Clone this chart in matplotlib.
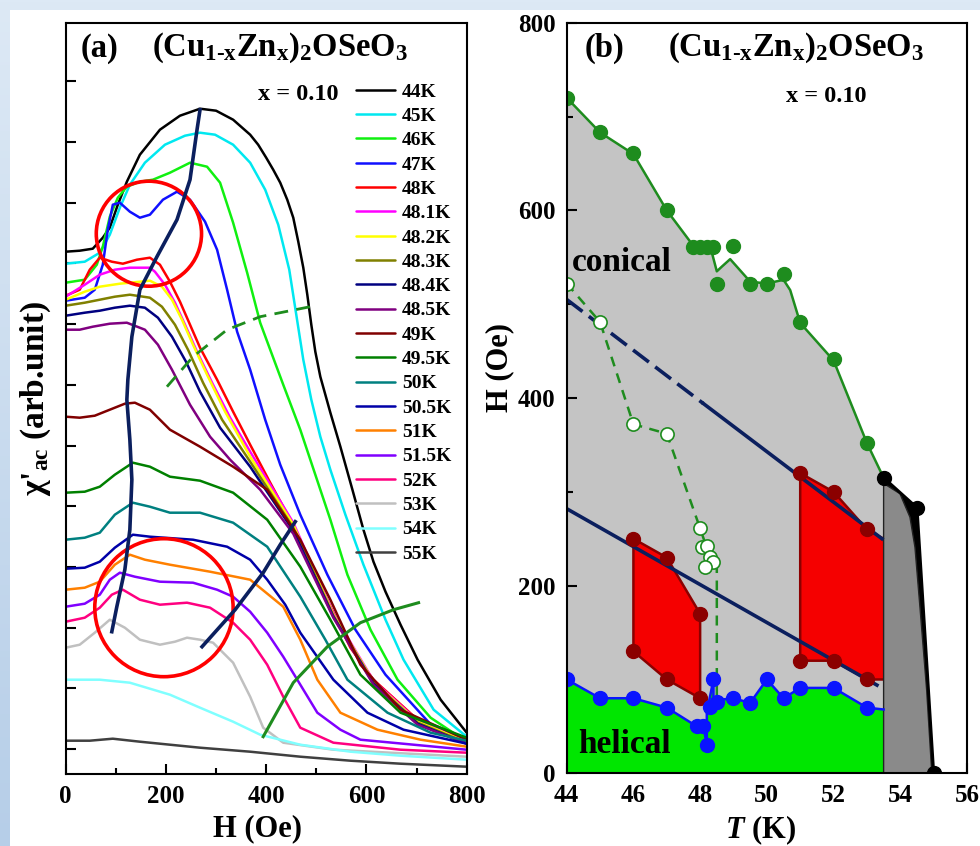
import numpy as np
import matplotlib
matplotlib.use("Agg")
import matplotlib.pyplot as plt
from matplotlib.patches import Ellipse, Rectangle
from matplotlib.colors import LinearSegmentedColormap
from matplotlib.ticker import MultipleLocator, FixedLocator

plt.rcParams['font.family'] = ['Liberation Serif', 'DejaVu Serif']
plt.rcParams['font.weight'] = 'bold'
plt.rcParams['axes.labelweight'] = 'bold'
plt.rcParams['mathtext.fontset'] = 'custom'
plt.rcParams['mathtext.rm'] = 'Liberation Serif:bold'
plt.rcParams['mathtext.it'] = 'Liberation Serif:bold'
plt.rcParams['mathtext.bf'] = 'Liberation Serif:bold'
plt.rcParams['mathtext.sf'] = 'Liberation Serif:italic:bold'

# ---------------- panel (a): chi'_ac vs H ----------------
temps = ['44K', '45K', '46K', '47K', '48K', '48.1K', '48.2K', '48.3K', '48.4K', '48.5K',
         '49K', '49.5K', '50K', '50.5K', '51K', '51.5K', '52K', '53K', '54K', '55K']
colors = ['#000000', '#00e8f0', '#10f010', '#1010ff', '#ff0000', '#ff00ff', '#ffff00', '#808000',
          '#000080', '#800080', '#800000', '#008000', '#008080', '#0000a8', '#ff8000', '#8000ff',
          '#ff0080', '#c0c0c0', '#80ffff', '#404040']

chi_H = [
    [0, 28, 54, 74, 88, 104, 122, 148, 188, 228, 268, 300, 334, 368, 384, 400, 414, 428, 442, 454, 464, 474, 482, 490, 498, 508, 528, 548, 572, 594, 614, 638, 668, 702, 748, 800],
    [0, 38, 68, 88, 108, 128, 158, 198, 238, 268, 298, 334, 368, 398, 424, 446, 460, 474, 490, 508, 528, 558, 594, 638, 674, 734, 800],
    [0, 38, 62, 74, 88, 104, 122, 148, 174, 208, 248, 282, 308, 334, 362, 388, 408, 434, 468, 498, 528, 562, 608, 662, 728, 800],
    [0, 38, 58, 74, 84, 94, 108, 128, 148, 168, 194, 222, 248, 278, 302, 322, 342, 368, 398, 428, 468, 522, 578, 638, 734, 800],
    [0, 28, 48, 68, 92, 114, 142, 168, 188, 208, 228, 248, 268, 302, 334, 368, 408, 448, 488, 534, 568, 614, 702, 800],
    [0, 38, 68, 98, 128, 168, 178, 198, 218, 238, 262, 292, 328, 368, 454, 534, 614, 702, 800],
    [0, 38, 68, 108, 168, 192, 212, 232, 254, 282, 318, 368, 454, 534, 614, 702, 800],
    [0, 38, 68, 98, 128, 168, 192, 218, 244, 274, 312, 368, 454, 534, 614, 702, 800],
    [0, 38, 68, 98, 128, 158, 184, 212, 240, 268, 308, 368, 454, 534, 614, 702, 800],
    [0, 28, 54, 88, 122, 158, 184, 212, 248, 288, 328, 388, 454, 534, 614, 702, 800],
    [0, 28, 58, 88, 118, 138, 168, 208, 268, 334, 402, 468, 528, 588, 668, 800],
    [0, 38, 68, 98, 134, 168, 208, 268, 334, 402, 468, 528, 588, 668, 800],
    [0, 38, 68, 98, 134, 168, 208, 268, 334, 402, 468, 518, 562, 642, 728, 800],
    [0, 38, 68, 98, 134, 168, 254, 322, 368, 402, 438, 468, 534, 602, 674, 800],
    [0, 38, 68, 98, 128, 158, 208, 288, 368, 434, 468, 502, 548, 622, 708, 800],
    [0, 38, 68, 88, 108, 138, 188, 254, 302, 334, 368, 402, 434, 462, 502, 548, 588, 800],
    [0, 38, 68, 92, 114, 148, 188, 242, 288, 334, 368, 402, 434, 468, 534, 668, 800],
    [0, 28, 58, 88, 118, 148, 188, 218, 242, 268, 294, 334, 368, 394, 434, 534, 800],
    [0, 68, 128, 208, 268, 334, 388, 468, 568, 668, 800],
    [0, 48, 94, 148, 208, 268, 368, 468, 568, 668, 800],
]
chi_v = [
    [52.2, 52.3, 52.5, 53.6, 54.6, 56.9, 59.2, 61.9, 64.4, 65.8, 66.5, 66.3, 65.4, 63.9, 62.9, 61.6, 60.4, 59.1, 57.4, 55.6, 53.2, 50.6, 47.9, 44.9, 42.2, 39.7, 36.1, 32.7, 28.4, 24.4, 21.2, 18.2, 14.9, 11.4, 7.4, 4.1],
    [51.0, 51.2, 52.1, 53.9, 56.6, 58.9, 61.1, 62.9, 63.8, 64.1, 63.9, 62.9, 61.1, 58.4, 54.9, 50.4, 45.9, 41.4, 37.4, 33.7, 30.4, 25.9, 20.9, 15.4, 11.4, 6.4, 3.7],
    [49.1, 49.4, 50.9, 52.7, 55.7, 57.6, 58.7, 59.2, 59.4, 60.1, 61.1, 60.7, 59.1, 55.1, 50.1, 45.1, 42.4, 38.9, 34.4, 29.9, 25.4, 19.9, 14.4, 9.4, 5.6, 3.2],
    [47.3, 47.6, 48.4, 50.9, 54.4, 56.9, 57.1, 56.2, 55.6, 55.9, 57.4, 58.2, 57.4, 55.2, 52.4, 48.4, 44.2, 40.4, 35.4, 30.9, 25.9, 19.9, 14.4, 9.9, 4.6, 3.1],
    [47.8, 48.4, 50.4, 51.6, 51.2, 51.0, 51.4, 51.6, 50.9, 49.2, 47.2, 44.9, 42.6, 39.4, 36.2, 32.9, 29.1, 25.4, 20.9, 16.1, 12.6, 9.4, 5.4, 3.4],
    [47.7, 48.9, 49.9, 50.4, 50.6, 50.6, 50.2, 48.9, 47.1, 44.9, 42.2, 39.1, 35.6, 32.2, 25.1, 16.0, 9.3, 5.3, 3.3],
    [47.4, 48.2, 48.7, 49.0, 49.3, 48.7, 47.4, 45.4, 42.9, 39.9, 36.2, 31.7, 24.9, 15.9, 9.2, 5.2, 3.2],
    [46.8, 47.1, 47.4, 47.7, 47.9, 47.6, 46.7, 44.9, 42.4, 39.1, 35.4, 31.2, 24.6, 15.8, 9.1, 5.1, 3.1],
    [45.8, 46.1, 46.3, 46.6, 46.8, 46.6, 45.6, 43.7, 41.2, 38.2, 34.6, 30.7, 24.3, 15.7, 9.0, 5.0, 3.0],
    [44.4, 44.4, 44.7, 45.0, 45.1, 44.4, 42.9, 40.4, 36.9, 33.7, 31.4, 28.4, 24.0, 15.6, 8.9, 4.9, 3.0],
    [35.7, 35.6, 35.8, 36.4, 37.0, 37.1, 36.4, 34.4, 32.7, 30.7, 28.4, 23.4, 17.4, 10.9, 6.4, 3.4],
    [28.1, 28.2, 28.7, 29.9, 31.1, 30.7, 29.7, 29.3, 28.1, 25.4, 20.7, 15.4, 9.9, 6.1, 3.6],
    [23.4, 23.6, 24.1, 25.9, 27.1, 26.7, 26.1, 26.1, 25.1, 22.7, 17.7, 13.4, 9.4, 6.1, 4.1, 3.3],
    [20.5, 20.6, 21.2, 22.6, 23.9, 23.7, 23.4, 22.7, 21.4, 19.4, 16.9, 14.1, 9.4, 6.1, 4.4, 3.0],
    [18.4, 18.6, 19.2, 20.9, 21.9, 21.4, 20.9, 20.2, 19.4, 16.7, 13.4, 9.4, 6.1, 4.4, 3.4, 2.7],
    [16.7, 17.0, 17.9, 19.4, 20.1, 19.7, 19.2, 19.1, 18.4, 17.7, 16.2, 14.1, 11.7, 9.4, 6.1, 4.4, 3.4, 2.4],
    [15.2, 15.6, 16.6, 17.9, 18.4, 17.4, 16.9, 17.1, 16.6, 15.1, 13.4, 10.9, 7.7, 4.6, 3.1, 2.4, 2.1],
    [12.6, 12.9, 14.1, 15.4, 14.6, 13.4, 12.9, 13.2, 13.6, 13.4, 13.1, 11.1, 7.7, 4.6, 3.1, 2.4, 1.7],
    [9.4, 9.4, 9.1, 7.9, 6.6, 5.2, 3.9, 2.9, 2.2, 1.8, 1.4],
    [3.3, 3.3, 3.5, 3.2, 2.9, 2.6, 2.2, 1.7, 1.3, 1.0, 0.7],
]

# guide lines drawn on panel (a)
guide1_H = [268, 262, 248, 222, 182, 148, 132, 124, 122, 128, 132, 128, 118, 102, 92]
guide1_v = [66.4, 64.4, 59.4, 55.4, 51.7, 48.4, 43.7, 39.4, 37.4, 33.4, 29.4, 24.4, 20.4, 16.7, 14.2]
guide2_H = [272, 338, 394, 428, 458]
guide2_v = [12.7, 16.4, 20.1, 22.9, 25.2]
dash_H = [202, 254, 322, 388, 488]
dash_v = [38.7, 41.7, 44.4, 45.7, 46.7]
solid_H = [394, 454, 522, 588, 654, 704]
solid_v = [3.7, 9.1, 12.7, 15.1, 16.4, 17.1]
circle1 = (166, 54.0, 210, 10.5)
circle2 = (196, 16.6, 276, 13.8)

# ---------------- panel (b): phase diagram ----------------
up_T = [44, 45, 46, 47, 47.8, 48.0, 48.2, 48.4, 48.5, 49, 49.5, 50, 50.5, 51, 52, 53]
up_H = [720, 683, 661, 600, 561, 561, 561, 561, 522, 562, 522, 522, 532, 481, 442, 352]
upline_T = [44, 45, 46, 47, 47.8, 48.3, 48.5, 48.65, 48.9, 49.15, 49.5, 50, 50.5, 50.7, 51, 52, 53, 53.5]
upline_H = [720, 683, 660, 600, 562, 562, 535, 540, 548, 538, 524, 522, 526, 515, 480, 440, 352, 315]

low_T = [44, 45, 46, 47, 47.9, 48.1, 48.2, 48.3, 48.4, 48.5, 49, 49.5, 50, 50.5, 51, 52, 53]
low_H = [100, 80, 80, 70, 50, 50, 30, 71, 100, 76, 80, 75, 100, 80, 91, 91, 70]
lowline_T = [44, 45, 46, 47, 47.9, 48.1, 48.2, 48.2, 48.4, 48.4, 48.5, 49, 49.5, 50, 50.5, 51, 52, 53, 53.5]
lowline_H = [100, 80, 80, 70, 50, 50, 30, 65, 100, 75, 78, 80, 75, 100, 80, 91, 91, 70, 68]

red1_T = [46, 47, 48, 48, 47, 46]
red1_H = [250, 230, 170, 80, 100, 130]
red2_T = [51, 52, 53, 53.5, 53.5, 53, 52, 51]
red2_H = [320, 300, 260, 250, 100, 100, 120, 120]
red2_pts_T = [51, 52, 53, 53, 52, 51]
red2_pts_H = [320, 300, 260, 100, 120, 120]

open_T = [44, 45, 46, 47, 48, 48.05, 48.2, 48.3, 48.4, 48.15]
open_H = [522, 481, 372, 362, 261, 241, 242, 231, 225, 220]
openline_T = [44, 45, 46, 47, 48, 48.2, 48.5, 48.5]
openline_H = [522, 481, 372, 362, 261, 240, 225, 80]

navy_hi_T = [44, 48.1, 53.45]
navy_hi_H = [505, 394, 250]
navy_lo_T = [44, 53.3]
navy_lo_H = [282, 94]

para_T = [53.5, 54.5, 55]
para_H = [315, 283, 0]
grey_T = [53.5, 53.99, 54.29, 54.44, 54.59, 54.79, 54.94]
grey_H = [309, 298, 273, 241, 177, 89, 3]

fig = plt.figure(figsize=(9.8, 8.46), dpi=100)

# slide-like backdrop: pale blue gradient band on the left and top
bg = fig.add_axes([0, 0, 1, 1], zorder=-20)
bg.imshow(np.linspace(0, 1, 256).reshape(-1, 1), aspect='auto', extent=(0, 1, 0, 1),
          cmap=LinearSegmentedColormap.from_list('slide', ['#dde9f5', '#b6cee8']))
bg.axis('off')
fig.add_artist(Rectangle((10 / 980, 0), 1, 1 - 10 / 846, transform=fig.transFigure,
                         facecolor='white', edgecolor='none', zorder=-10))

navy = '#0b1f5e'
title = r'(Cu$_{1\text{-}x}$Zn$_x$)$_2$OSeO$_3$'

# ----- (a) -----
ax = fig.add_axes([65.7 / 980, 1 - 773.7 / 846, 401 / 980, 751 / 846])
for lab, col, h, v in zip(temps, colors, chi_H, chi_v):
    ax.plot(h, v, color=col, lw=1.8, label=lab, solid_joinstyle='round', solid_capstyle='round')

ax.add_patch(Ellipse(circle1[:2], circle1[2], circle1[3], fill=False, edgecolor='#ff0000', lw=2.6, zorder=5))
ax.add_patch(Ellipse(circle2[:2], circle2[2], circle2[3], fill=False, edgecolor='#ff0000', lw=2.6, zorder=5))
ax.plot(guide1_H, guide1_v, color=navy, lw=2.6, zorder=6)
ax.plot(guide2_H, guide2_v, color=navy, lw=2.6, zorder=6)
ax.plot(dash_H, dash_v, color='#1e8c1e', lw=2.0, ls=(0, (5, 3)), zorder=6)
ax.plot(solid_H, solid_v, color='#1e8c1e', lw=2.2, zorder=6)

ax.set_xlim(0, 800)
ax.set_ylim(0, 75.1)
ax.xaxis.set_major_locator(MultipleLocator(200))
ax.xaxis.set_minor_locator(MultipleLocator(100))
ax.yaxis.set_major_locator(FixedLocator(np.arange(2.47, 75, 6.07)))
ax.tick_params(which='both', direction='in', width=1.5, labelsize=18, pad=8, labelleft=False)
ax.tick_params(which='major', length=7)
ax.tick_params(which='minor', length=4)
for s in ax.spines.values():
    s.set_linewidth(1.5)
ax.set_xlabel('H (Oe)', fontsize=22)
ax.xaxis.set_label_coords(0.478, -0.054)
ax.set_ylabel("χ'$_{ac}$ (arb.unit)", fontsize=24)
ax.yaxis.set_label_coords(-0.032, 0.50)

ax.text(0.036, 0.966, '(a)', transform=ax.transAxes, fontsize=23.5, va='center')
ax.text(0.216, 0.966, title, transform=ax.transAxes, fontsize=23.5, va='center')
ax.text(0.48, 0.905, 'x = 0.10', transform=ax.transAxes, fontsize=17.5, va='center')

ax.legend(loc='upper left', bbox_to_anchor=(356 / 980, 1 - 83 / 846), bbox_transform=fig.transFigure,
          frameon=False, fontsize=14, handlelength=2.0, handletextpad=0.36, labelspacing=0.345,
          borderpad=0, borderaxespad=0)

# ----- (b) -----
bx = fig.add_axes([566.7 / 980, 1 - 773.3 / 846, 400.3 / 980, 750.6 / 846])
bx.fill(upline_T + [53.5, 44], upline_H + [0, 0], color='#c4c4c4', lw=0, zorder=1)
bx.fill(lowline_T + [53.5, 44], lowline_H + [0, 0], color='#00e600', lw=0, zorder=2)
bx.fill(red1_T, red1_H, facecolor='#f50000', edgecolor='#8b0000', lw=1.8, zorder=3)
bx.fill(red2_T, red2_H, facecolor='#f50000', edgecolor='none', zorder=3)
bx.plot(red2_pts_T[:3] + [53.5], red2_pts_H[:3] + [250], color='#8b0000', lw=1.8, zorder=3)
bx.plot([53.5] + red2_pts_T[3:] + [51, 51], [100] + red2_pts_H[3:] + [320, 320], color='#8b0000', lw=1.8, zorder=3)
bx.fill(para_T + [53.5], para_H + [0], color='black', lw=0, zorder=3)
bx.fill(grey_T + [54.94, 53.5], grey_H + [0, 0], facecolor='#8a8a8a', edgecolor='#222222', lw=1.0, zorder=3)
bx.plot(para_T, para_H, color='black', lw=2.2, zorder=4)
bx.plot(para_T, para_H, 'o', color='black', ms=10, zorder=8)

bx.plot(navy_hi_T[:2], navy_hi_H[:2], color=navy, lw=2.6, ls=(0, (5.5, 2.2)), zorder=5)
bx.plot(navy_hi_T[1:], navy_hi_H[1:], color=navy, lw=2.6, zorder=5)
bx.plot(navy_lo_T, navy_lo_H, color=navy, lw=2.6, zorder=5)

bx.plot(red1_T, red1_H, 'o', color='#8b0000', ms=10, zorder=6)
bx.plot(red2_pts_T, red2_pts_H, 'o', color='#8b0000', ms=10, zorder=6)

bx.plot(upline_T, upline_H, color='#1e8c1e', lw=1.8, zorder=6)
bx.plot(up_T, up_H, 'o', color='#1e8c1e', ms=10, zorder=7)
bx.plot(lowline_T, lowline_H, color='#0a14ff', lw=1.8, zorder=6)
bx.plot(low_T, low_H, 'o', color='#0a14ff', ms=10, zorder=7)
bx.plot(openline_T, openline_H, color='#1e8c1e', lw=1.8, ls=(0, (4, 3)), zorder=6)
bx.plot(open_T, open_H, 'o', mfc='white', mec='#1e8c1e', mew=1.2, ms=9.5, zorder=7)

bx.set_xlim(44, 56)
bx.set_ylim(0, 800)
bx.xaxis.set_major_locator(MultipleLocator(2))
bx.xaxis.set_minor_locator(MultipleLocator(1))
bx.yaxis.set_major_locator(MultipleLocator(200))
bx.yaxis.set_minor_locator(MultipleLocator(100))
bx.tick_params(which='both', direction='in', width=1.5, labelsize=18, pad=8)
bx.tick_params(which='major', length=7)
bx.tick_params(which='minor', length=4)
for s in bx.spines.values():
    s.set_linewidth(1.5)
    s.set_zorder(10)
bx.set_xlabel(r'$\mathsf{T}$ (K)', fontsize=22)
bx.xaxis.set_label_coords(0.485, -0.054)
bx.set_ylabel('H (Oe)', fontsize=22)
bx.yaxis.set_label_coords(-0.13, 0.54)

bx.text(0.046, 0.966, '(b)', transform=bx.transAxes, fontsize=23.5, va='center')
bx.text(0.253, 0.966, title, transform=bx.transAxes, fontsize=23.5, va='center')
bx.text(0.548, 0.902, 'x = 0.10', transform=bx.transAxes, fontsize=17.5, va='center')
bx.text(0.013, 0.681, 'conical', transform=bx.transAxes, fontsize=24, va='center', zorder=9)
bx.text(0.028, 0.039, 'helical', transform=bx.transAxes, fontsize=24, va='center', zorder=9)

fig.savefig('out.png', dpi=100)
